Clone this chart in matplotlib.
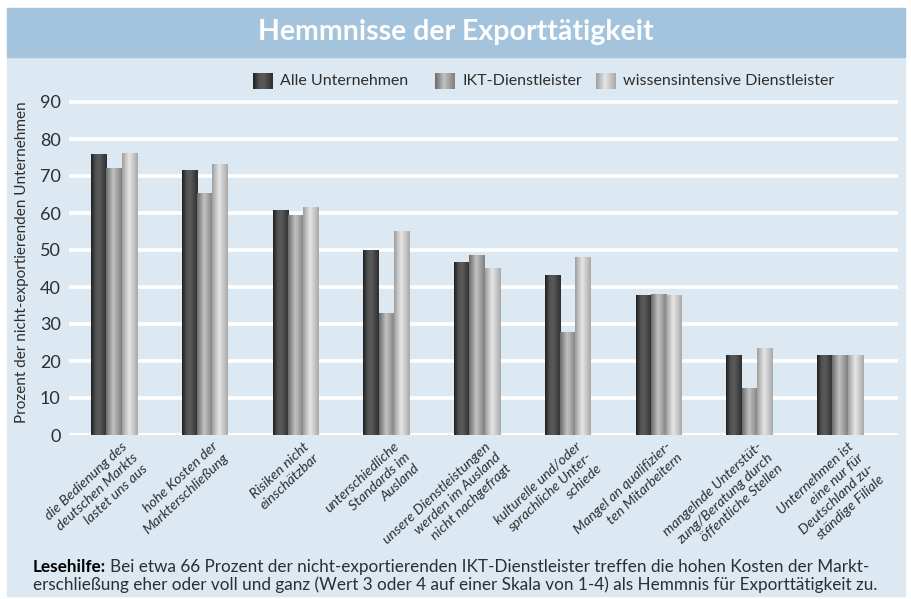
import numpy as np
import matplotlib.pyplot as plt
from matplotlib.patches import Rectangle

# data
categories = [
    "die Bedienung des\ndeutschen Markts\nlastet uns aus",
    "hohe Kosten der\nMarkterschließung",
    "Risiken nicht\neinschätzbar",
    "unterschiedliche\nStandards im\nAusland",
    "unsere Dienstleistungen\nwerden im Ausland\nnicht nachgefragt",
    "kulturelle und/oder\nsprachliche Unter-\nschiede",
    "Mangel an qualifizier-\nten Mitarbeitern",
    "mangelnde Unterstüt-\nzung/Beratung durch\nöffentliche Stellen",
    "Unternehmen ist\neine nur für\nDeutschland zu-\nständige Filiale",
]
series_names = ["Alle Unternehmen", "IKT-Dienstleister", "wissensintensive Dienstleister"]
alle = [75.7, 71.6, 60.8, 50.0, 46.5, 43.0, 37.8, 21.4, 21.4]
ikt = [72.1, 65.3, 59.2, 32.9, 48.6, 27.6, 38.1, 12.7, 21.4]
wissen = [76.2, 73.0, 61.4, 55.1, 44.9, 48.1, 37.8, 23.5, 21.4]
yticks = list(range(0, 100, 10))

title = "Hemmnisse der Exporttätigkeit"
ylabel = "Prozent der nicht-exportierenden Unternehmen"
note_bold = "Lesehilfe:"
note_1 = "Bei etwa 66 Prozent der nicht-exportierenden IKT-Dienstleister treffen die hohen Kosten der Markt-"
note_2 = "erschließung eher oder voll und ganz (Wert 3 oder 4 auf einer Skala von 1-4) als Hemmnis für Exporttätigkeit zu."

# colours
panel_col = "#dde9f2"
bar_col = "#a3c4dc"
text_col = "#2e2e2e"

# cylinder-like grey gradients for the three series
grad_stops = [
    ([0, 0.3, 0.55, 1], [0.12, 0.33, 0.35, 0.18]),
    ([0, 0.45, 1], [0.42, 0.76, 0.50]),
    ([0, 0.45, 1], [0.62, 0.90, 0.66]),
]


def gradient(pos, vals):
    xs = np.linspace(0, 1, 64)
    g = np.interp(xs, pos, vals)
    return np.dstack([g, g, g]).reshape(1, 64, 3)


grads = [gradient(*s) for s in grad_stops]

plt.rcParams['font.family'] = ['Lato', 'DejaVu Sans']

fig = plt.figure(figsize=(9.11, 5.99), dpi=100)

# background layer in pixel coordinates
bg = fig.add_axes([0, 0, 1, 1], zorder=0)
bg.add_patch(Rectangle((7, 57), 898, 539, color=panel_col))
bg.add_patch(Rectangle((7, 8), 898, 49, color=bar_col))
bg.text(456, 32, title, ha='center', va='center', color='white',
        fontsize=20.5, fontweight='bold')

# legend drawn by hand so the swatches get the gradient too
leg_x = [253, 435, 596]
for x0, name, g in zip(leg_x, series_names, grads):
    bg.imshow(g, extent=[x0, x0 + 20, 89, 73], aspect='auto',
              interpolation='bilinear', zorder=3)
    bg.text(x0 + 27, 81, name, va='center', ha='left', fontsize=11.5, color=text_col)

t = bg.text(33, 567, note_bold, fontweight='bold', fontsize=12.3, va='center', color='black')
bg.annotate(note_1, xy=(1, 0.5), xycoords=t, xytext=(3, 0), textcoords='offset points',
            va='center', ha='left', fontsize=12.3, color=text_col)
bg.text(33, 585, note_2, fontsize=12.3, va='center', color=text_col)

bg.set_xlim(0, 911)
bg.set_ylim(599, 0)
bg.axis('off')

# main chart
ax = fig.add_axes([69 / 911, 1 - 435 / 599, 829 / 911, (435 - 98.3) / 599], zorder=1)
ax.patch.set_alpha(0)
for s in ax.spines.values():
    s.set_visible(False)

for y in yticks:
    ax.axhline(y, color='white', lw=2.6, zorder=0)

x = np.arange(len(categories))
w = 0.169
for k, (vals, g) in enumerate(zip([alle, ikt, wissen], grads)):
    bars = ax.bar(x + (k - 1) * w, vals, w, color='none', zorder=2)
    for b in bars:
        ax.imshow(g, extent=[b.get_x(), b.get_x() + b.get_width(), 0, b.get_height()],
                  aspect='auto', interpolation='bilinear', zorder=3)

for i, lab in enumerate(categories):
    ax.text(i + 0.08, -1.4, lab, rotation=43, rotation_mode='anchor', ha='right', va='top',
            multialignment='right', fontsize=10.3, style='italic', linespacing=1.3,
            color=text_col, clip_on=False)

ax.set_xlim(-0.496, 8.639)
ax.set_ylim(0, 91)
ax.set_xticks([])
ax.set_yticks(yticks)
ax.tick_params(axis='y', length=0, pad=6, labelsize=13, labelcolor=text_col)

fig.text(22 / 911, 1 - 262 / 599, ylabel, rotation=90, ha='center', va='center',
         fontsize=11, color=text_col)

plt.savefig('out.png', dpi=100)
